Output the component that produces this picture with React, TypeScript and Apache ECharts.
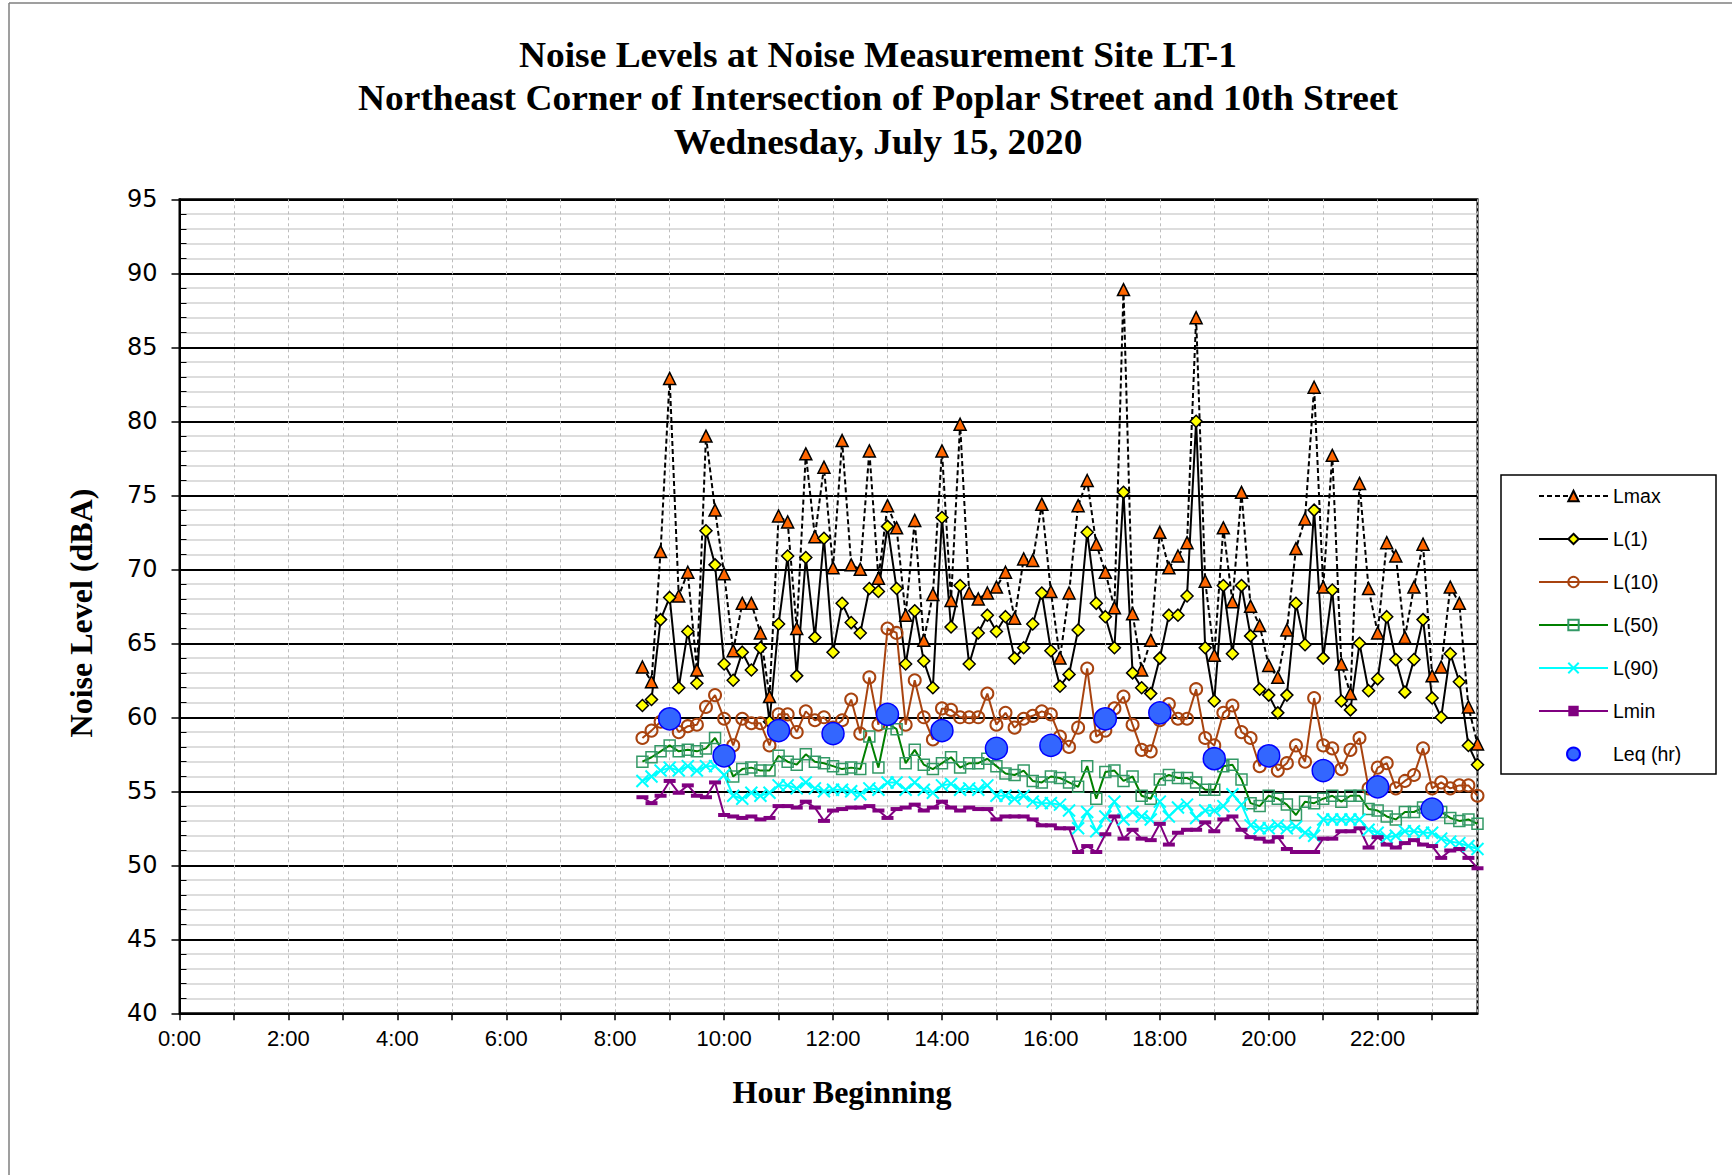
import React, { useEffect, useRef } from "react";
import * as echarts from "echarts";

const sampleTimes = [
  "8:30", "8:40", "8:50",
  "9:00", "9:10", "9:20", "9:30", "9:40", "9:50",
  "10:00", "10:10", "10:20", "10:30", "10:40", "10:50",
  "11:00", "11:10", "11:20", "11:30", "11:40", "11:50",
  "12:00", "12:10", "12:20", "12:30", "12:40", "12:50",
  "13:00", "13:10", "13:20", "13:30", "13:40", "13:50",
  "14:00", "14:10", "14:20", "14:30", "14:40", "14:50",
  "15:00", "15:10", "15:20", "15:30", "15:40", "15:50",
  "16:00", "16:10", "16:20", "16:30", "16:40", "16:50",
  "17:00", "17:10", "17:20", "17:30", "17:40", "17:50",
  "18:00", "18:10", "18:20", "18:30", "18:40", "18:50",
  "19:00", "19:10", "19:20", "19:30", "19:40", "19:50",
  "20:00", "20:10", "20:20", "20:30", "20:40", "20:50",
  "21:00", "21:10", "21:20", "21:30", "21:40", "21:50",
  "22:00", "22:10", "22:20", "22:30", "22:40", "22:50",
  "23:00", "23:10", "23:20", "23:30", "23:40", "23:50",
];

const hourlyTimes = [
  "9:00", "10:00", "11:00", "12:00", "13:00", "14:00", "15:00", "16:00",
  "17:00", "18:00", "19:00", "20:00", "21:00", "22:00", "23:00",
];

const lmax = [
  63.4, 62.4, 71.2,
  82.9, 68.2, 69.8, 63.2, 79.0, 74.0,
  69.7, 64.5, 67.7, 67.7, 65.7, 61.4,
  73.6, 73.2, 66.0, 77.8, 72.2, 76.9,
  70.1, 78.7, 70.3, 70.0, 78.0, 69.4,
  74.3, 72.8, 66.9, 73.3, 65.2, 68.3,
  78.0, 67.9, 79.8, 68.4, 68.0, 68.4,
  68.8, 69.8, 66.7, 70.7, 70.6, 74.4,
  68.5, 64.0, 68.4, 74.3, 76.0, 71.7,
  69.8, 67.4, 88.9, 67.0, 63.2, 65.2,
  72.5, 70.1, 70.9, 71.8, 87.0, 69.2,
  64.2, 72.8, 67.8, 75.2, 67.5, 66.2,
  63.5, 62.7, 65.9, 71.4, 73.4, 82.3,
  68.8, 77.7, 63.6, 61.6, 75.8, 68.7,
  65.7, 71.8, 70.9, 65.4, 68.8, 71.7,
  62.8, 63.4, 68.8, 67.7, 60.7, 58.2,
];

const l1 = [
  60.8, 61.2, 66.6,
  68.1, 62.0, 65.8, 62.3, 72.6, 70.3,
  63.6, 62.5, 64.4, 63.2, 64.7, 59.7,
  66.3, 70.9, 62.8, 70.8, 65.4, 72.1,
  64.4, 67.7, 66.4, 65.7, 68.7, 68.5,
  72.9, 68.7, 63.6, 67.2, 63.8, 62.0,
  73.5, 66.1, 68.9, 63.6, 65.7, 66.9,
  65.8, 66.8, 64.0, 64.7, 66.3, 68.4,
  64.5, 62.1, 62.9, 65.9, 72.5, 67.7,
  66.8, 64.7, 75.2, 63.0, 62.0, 61.6,
  64.0, 66.9, 66.9, 68.2, 80.0, 64.7,
  61.1, 68.9, 64.3, 68.9, 65.5, 61.9,
  61.5, 60.3, 61.5, 67.7, 64.9, 74.0,
  64.0, 68.6, 61.1, 60.5, 65.0, 61.8,
  62.6, 66.8, 63.9, 61.7, 63.9, 66.6,
  61.3, 60.0, 64.3, 62.4, 58.1, 56.8,
];

const l10 = [
  58.6, 59.1, 59.7,
  60.0, 59.0, 59.4, 59.5, 60.7, 61.5,
  59.9, 58.1, 59.9, 59.6, 59.6, 58.1,
  60.2, 60.2, 59.0, 60.4, 59.8, 60.0,
  59.3, 59.8, 61.2, 58.9, 62.7, 59.5,
  66.0, 65.7, 59.5, 62.5, 60.0, 58.5,
  60.6, 60.5, 60.0, 60.0, 60.0, 61.6,
  59.5, 60.3, 59.3, 59.9, 60.1, 60.4,
  60.2, 58.7, 58.0, 59.3, 63.3, 58.7,
  59.1, 60.6, 61.4, 59.5, 57.8, 57.7,
  59.8, 60.9, 59.9, 59.9, 61.9, 58.6,
  58.1, 60.3, 60.8, 59.0, 58.6, 56.7,
  57.6, 56.4, 56.9, 58.1, 57.0, 61.3,
  58.1, 57.9, 56.5, 57.8, 58.6, 55.2,
  56.6, 56.9, 55.2, 55.7, 56.1, 57.9,
  55.2, 55.6, 55.2, 55.4, 55.4, 54.7,
];

const l50 = [
  57.0, 57.3, 57.7,
  58.1, 57.7, 57.8, 57.7, 57.9, 58.6,
  57.5, 56.0, 56.5, 56.6, 56.4, 56.4,
  57.4, 57.0, 56.8, 57.5, 57.0, 56.9,
  56.7, 56.5, 56.6, 56.5, 58.7, 56.6,
  59.6, 59.2, 56.9, 57.8, 56.8, 56.5,
  56.9, 57.3, 56.6, 56.9, 56.9, 57.2,
  56.7, 56.2, 56.1, 56.4, 55.7, 55.6,
  56.0, 55.9, 55.6, 55.3, 56.7, 54.5,
  56.3, 56.4, 55.7, 56.0, 54.7, 54.5,
  55.8, 56.1, 55.9, 55.9, 55.6, 55.1,
  55.1, 56.7, 56.8, 55.8, 54.2, 54.0,
  54.7, 54.5, 54.1, 53.4, 54.3, 54.2,
  54.5, 54.7, 54.3, 54.7, 54.7, 53.8,
  53.7, 53.3, 53.1, 53.6, 53.6, 53.9,
  53.7, 53.6, 53.2, 53.0, 53.1, 52.8,
];

const l90 = [
  55.7, 56.0, 56.4,
  56.6, 56.4, 56.7, 56.4, 56.7, 56.7,
  56.1, 54.7, 54.5, 54.9, 54.7, 54.9,
  55.4, 55.4, 55.2, 55.6, 55.2, 55.0,
  55.1, 55.1, 55.0, 54.8, 55.2, 55.1,
  55.6, 55.6, 55.1, 55.6, 55.1, 54.9,
  55.4, 55.5, 55.1, 55.2, 55.1, 55.4,
  54.7, 54.7, 54.5, 54.7, 54.3, 54.2,
  54.2, 54.1, 53.7, 52.5, 53.6, 52.3,
  53.3, 54.3, 53.1, 53.6, 53.3, 53.1,
  54.3, 53.3, 53.9, 54.1, 53.2, 53.7,
  53.7, 54.0, 54.8, 54.1, 52.7, 52.5,
  52.5, 52.7, 52.5, 52.6, 52.2, 52.0,
  53.1, 53.1, 53.1, 53.1, 53.1, 52.4,
  52.2, 51.9, 52.0, 52.3, 52.3, 52.2,
  52.2, 51.8, 51.6, 51.5, 51.3, 51.1,
];

const lmin = [
  54.6, 54.2, 54.7,
  55.7, 54.9, 55.4, 54.7, 54.6, 55.6,
  53.4, 53.3, 53.2, 53.3, 53.1, 53.2,
  54.0, 54.0, 53.9, 54.3, 53.9, 53.0,
  53.7, 53.8, 53.9, 53.9, 54.0, 53.7,
  53.2, 53.8, 53.9, 54.1, 53.7, 53.9,
  54.3, 53.9, 53.7, 53.9, 53.8, 53.8,
  53.1, 53.3, 53.3, 53.3, 53.1, 52.7,
  52.7, 52.5, 52.5, 50.9, 51.3, 50.9,
  52.1, 53.3, 51.8, 52.4, 51.8, 51.7,
  52.8, 51.4, 52.2, 52.4, 52.4, 52.9,
  52.3, 53.1, 53.3, 52.4, 51.9, 51.8,
  51.6, 51.9, 51.1, 50.9, 50.9, 50.9,
  51.8, 51.8, 52.3, 52.3, 52.5, 51.2,
  51.9, 51.4, 51.2, 51.5, 51.7, 51.4,
  51.3, 50.5, 51.0, 51.1, 50.5, 49.8,
];

const leqHourly = [
  59.9, 57.4, 59.1, 58.9, 60.2, 59.1, 57.9, 58.1,
  59.9, 60.3, 57.2, 57.4, 56.4, 55.3, 53.8,
];

const xTickLabels = [
  "0:00", "2:00", "4:00", "6:00", "8:00", "10:00",
  "12:00", "14:00", "16:00", "18:00", "20:00", "22:00",
];

const titleLines = [
  "Noise Levels at Noise Measurement Site LT-1",
  "Northeast Corner of Intersection of Poplar Street and 10th Street",
  "Wednesday, July 15, 2020",
];

const toHours = (s: string) => {
  const [h, m] = s.split(":").map(Number);
  return h + m / 60;
};

const pairs = (times: string[], vals: number[]) =>
  times.map((t, i) => [toHours(t), vals[i]]);

export default function App() {
  const ref = useRef<HTMLDivElement>(null);

  useEffect(() => {
    if (!ref.current) return;
    const chart = echarts.init(ref.current, null, { renderer: "svg" });
    const serif = '"Liberation Serif", "Times New Roman", serif';
    const sans = '"Liberation Sans", Arial, sans-serif';

    const option: any = {
      animation: false,
      backgroundColor: "#ffffff",
      grid: {
        left: 179.5,
        top: 199.3,
        width: 1298,
        height: 814,
        show: true,
        borderColor: "#000",
        borderWidth: 2,
        backgroundColor: "transparent",
        containLabel: false,
        outerBoundsMode: "none",
      },
      legend: {
        orient: "vertical",
        left: 1538,
        top: 486,
        padding: 0,
        itemWidth: 69,
        itemHeight: 13,
        itemGap: 23,
        selectedMode: false,
        textStyle: { fontFamily: sans, fontSize: 19.5, lineHeight: 14, color: "#000" },
        data: ["Lmax", "L(1)", "L(10)", "L(50)", "L(90)", "Lmin", "Leq (hr)"],
      },
      xAxis: {
        type: "value",
        min: 0,
        max: 23 + 50 / 60,
        interval: 1,
        axisLine: { show: true, lineStyle: { color: "#000", width: 2 } },
        axisTick: { show: true, length: 7, lineStyle: { color: "#000", width: 1.5 } },
        axisLabel: {
          fontFamily: sans,
          fontSize: 22,
          color: "#000",
          margin: 14,
          showMaxLabel: false,
          formatter: (v: number) =>
            Number.isInteger(v) && v % 2 === 0 ? xTickLabels[v / 2] ?? "" : "",
        },
        splitLine: {
          show: true,
          lineStyle: { color: "#bdbdbd", width: 1, type: [3, 3] },
        },
      },
      yAxis: [
        {
          type: "value",
          min: 40,
          max: 95,
          interval: 5,
          position: "left",
          axisLine: { show: true, lineStyle: { color: "#000", width: 2 } },
          axisTick: { show: true, length: 8, lineStyle: { color: "#000", width: 1.5 } },
          axisLabel: {
            fontFamily: '"DejaVu Sans", "Liberation Sans", sans-serif',
            fontSize: 24,
            color: "#000",
            margin: 22,
          },
          splitLine: { show: true, lineStyle: { color: "#000", width: 2 } },
          minorTick: { show: false, splitNumber: 5 },
          minorSplitLine: { show: true, lineStyle: { color: "#d2d2d2", width: 1.5 } },
        },
        {
          type: "value",
          min: 40,
          max: 95,
          interval: 1,
          position: "left",
          offset: 0,
          axisLine: { show: false },
          axisTick: { show: true, inside: true, length: 7, lineStyle: { color: "#000", width: 1 } },
          axisLabel: { show: false },
          splitLine: { show: false },
        },
      ],
      series: [
        {
          name: "Lmax",
          type: "line",
          data: pairs(sampleTimes, lmax),
          symbol: "triangle",
          symbolSize: 12,
          lineStyle: { color: "#000", width: 2, type: [5, 3] },
          itemStyle: { color: "#FF6600", borderColor: "#000", borderWidth: 1.5 },
          emphasis: { disabled: true },
        },
        {
          name: "L(1)",
          type: "line",
          data: pairs(sampleTimes, l1),
          symbol: "diamond",
          symbolSize: 12,
          lineStyle: { color: "#000", width: 2 },
          itemStyle: { color: "#FFFF00", borderColor: "#000", borderWidth: 1.5 },
          emphasis: { disabled: true },
        },
        {
          name: "L(10)",
          type: "line",
          data: pairs(sampleTimes, l10),
          symbol: "circle",
          symbolSize: 12,
          lineStyle: { color: "#A8430F", width: 2 },
          itemStyle: { color: "rgba(255,255,255,0)", borderColor: "#A8430F", borderWidth: 2 },
          emphasis: { disabled: true },
        },
        {
          name: "L(50)",
          type: "line",
          data: pairs(sampleTimes, l50),
          symbol: "rect",
          symbolSize: 11,
          lineStyle: { color: "#008000", width: 2 },
          itemStyle: { color: "rgba(255,255,255,0)", borderColor: "#339966", borderWidth: 1.5 },
          emphasis: { disabled: true },
        },
        {
          name: "L(90)",
          type: "line",
          data: pairs(sampleTimes, l90),
          symbol: "path://M0,0L10,10M10,0L0,10",
          symbolSize: 12,
          lineStyle: { color: "#00FFFF", width: 2 },
          itemStyle: { color: "#00FFFF", borderColor: "#00FFFF", borderWidth: 2 },
          emphasis: { disabled: true },
        },
        {
          name: "Lmin",
          type: "line",
          data: pairs(sampleTimes, lmin),
          symbol: "rect",
          symbolSize: [12, 4],
          lineStyle: { color: "#800080", width: 2 },
          itemStyle: { color: "#800080", borderColor: "#800080", borderWidth: 0 },
          emphasis: { disabled: true },
        },
        {
          name: "Leq (hr)",
          type: "scatter",
          data: pairs(hourlyTimes, leqHourly),
          symbol: "circle",
          symbolSize: 22,
          itemStyle: { color: "#3366FF", borderColor: "#0000FF", borderWidth: 1.5, opacity: 1 },
          emphasis: { disabled: true },
          z: 5,
        },
      ],
      graphic: [
        {
          type: "line",
          shape: { x1: 9, y1: 3, x2: 9, y2: 1175 },
          style: { stroke: "#7f7f7f", lineWidth: 1.5 },
        },
        {
          type: "line",
          shape: { x1: 9, y1: 3, x2: 1732, y2: 3 },
          style: { stroke: "#7f7f7f", lineWidth: 1.5 },
        },
        {
          type: "rect",
          shape: { x: 1501, y: 475, width: 215, height: 299 },
          style: { fill: "#ffffff", stroke: "#000", lineWidth: 1.5 },
          z: -1,
        },
        ...titleLines.map((t, i) => ({
          type: "text",
          x: 878,
          y: 55 + i * 43.2,
          scaleX: 1.04,
          style: {
            text: t,
            font: `bold 36px ${serif}`,
            fill: "#000",
            textAlign: "center",
            textVerticalAlign: "middle",
          },
        })),
        {
          type: "text",
          x: 81,
          y: 613,
          rotation: Math.PI / 2,
          style: {
            text: "Noise Level (dBA)",
            font: `bold 32px ${serif}`,
            fill: "#000",
            textAlign: "center",
            textVerticalAlign: "middle",
          },
        },
        {
          type: "text",
          x: 842,
          y: 1092,
          style: {
            text: "Hour Beginning",
            font: `bold 32px ${serif}`,
            fill: "#000",
            textAlign: "center",
            textVerticalAlign: "middle",
          },
        },
      ],
    };

    chart.setOption(option);
    return () => chart.dispose();
  }, []);

  return (
    <div
      ref={ref}
      style={{ position: "fixed", left: 0, top: 0, width: 1732, height: 1175, background: "#fff" }}
    />
  );
}
